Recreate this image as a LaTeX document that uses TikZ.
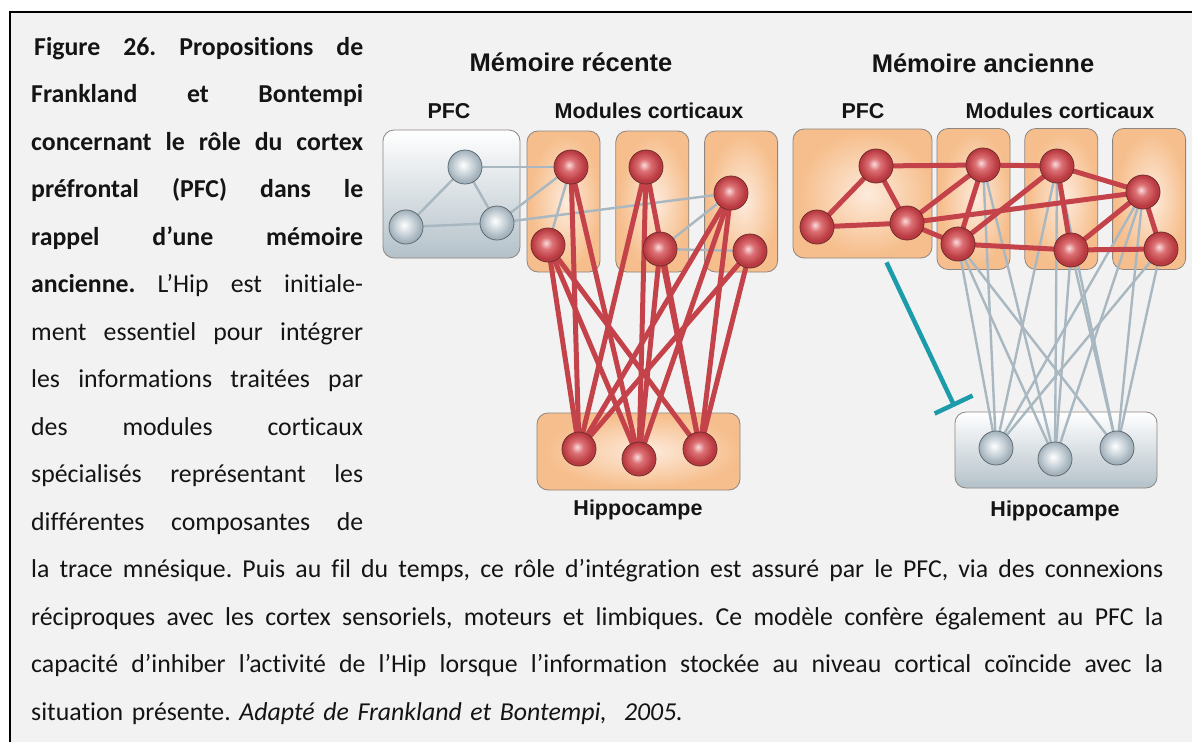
\documentclass[tikz,border=0pt]{standalone}
\usepackage{fontspec}
\setmainfont{Carlito}[Ligatures=NoCommon]
\newfontfamily\figfont{Liberation Sans}
\usetikzlibrary{positioning,arrows.meta}

\definecolor{paper}{HTML}{F2F2F2}
\definecolor{ink}{HTML}{141414}
\definecolor{linkred}{HTML}{C4434A}
\definecolor{linkgrey}{HTML}{A8B7C0}
\definecolor{inhib}{HTML}{1C9CAB}
\definecolor{redhi}{HTML}{F9DCDC}
\definecolor{redmid}{HTML}{DC7074}
\definecolor{redlo}{HTML}{B93A40}
\definecolor{redrim}{HTML}{6E2C2C}
\definecolor{greyhi}{HTML}{FFFFFF}
\definecolor{greymid}{HTML}{D6DEE3}
\definecolor{greylo}{HTML}{A4B2BC}
\definecolor{greyrim}{HTML}{5E6A72}
\definecolor{orangehi}{HTML}{FDEBDC}
\definecolor{orangelo}{HTML}{F6BE8C}
\definecolor{greybot}{HTML}{B4C1C9}
\definecolor{boxline}{HTML}{8C8580}

\pgfdeclareradialshading{redballsh}{\pgfpoint{-3bp}{3bp}}{color(0bp)=(redhi); color(9bp)=(redmid); color(22bp)=(redlo); color(50bp)=(redlo)}
\pgfdeclareradialshading{greyballsh}{\pgfpoint{-3bp}{3bp}}{color(0bp)=(greyhi); color(10bp)=(greymid); color(23bp)=(greylo); color(50bp)=(greylo)}
\pgfdeclareradialshading{modulesh}{\pgfpoint{2bp}{0bp}}{color(0bp)=(orangehi); color(24bp)=(orangelo); color(50bp)=(orangelo)}

\pgfdeclarelayer{backdrop}
\pgfdeclarelayer{boxes}
\pgfdeclarelayer{wires}
\pgfsetlayers{backdrop,boxes,wires,main}

% une ligne justifiee de largeur donnee
\newcommand{\jline}[2][332pt]{\noindent\hbox to #1{\spaceskip=0.226em plus 1fil\relax #2}\par}

\tikzset{
  redball/.style={circle, minimum size=34pt, inner sep=0pt, draw=redrim, line width=0.8pt, shading=redballsh},
  greyball/.style={circle, minimum size=34pt, inner sep=0pt, draw=greyrim, line width=0.8pt, shading=greyballsh},
  module/.style={rectangle, rounded corners=11pt, draw=boxline, line width=0.8pt, shading=modulesh, minimum width=73pt, minimum height=141pt},
  greybox/.style={rectangle, rounded corners=11pt, draw=boxline, line width=0.8pt, top color=white, bottom color=greybot},
  strong/.style={line width=5pt, draw=linkred},
  weak/.style={line width=2.4pt, draw=linkgrey},
  inhibit/.style={line width=4.5pt, draw=inhib, -{Bar[width=42pt]}},
  headline/.style={font=\figfont\bfseries\fontsize{25.5}{30}\selectfont, text=ink},
  tag/.style={font=\figfont\bfseries\fontsize{21.5}{26}\selectfont, text=ink},
  caption/.style={anchor=base west, inner sep=0pt, text=ink, font=\fontsize{25.8}{47.5}\selectfont\frenchspacing}
}

\begin{document}
\begin{tikzpicture}[x=1pt, y=-1pt]
\useasboundingbox (0,0) rectangle (1192,742);
\begin{pgfonlayer}{backdrop}
\fill[paper] (10,12) rectangle (1192,742);
\draw[line width=1.6pt] (10,742) -- (10,12) -- (1192,12);
\end{pgfonlayer}

% legende
\node[caption, text width=332pt] (capL) at (31,55) {%
\jline{\hspace*{3pt}\textbf{Figure 26. Propositions de}}%
\jline{\textbf{Frankland et Bontempi}}%
\jline{\textbf{concernant le rôle du cortex}}%
\jline{\textbf{préfrontal (PFC) dans le}}%
\jline{\textbf{rappel d’une mémoire}}%
\jline{\textbf{ancienne.} L’Hip est initiale-}%
\jline{ment essentiel pour intégrer}%
\jline{les informations traitées par}%
\jline{des modules corticaux}%
\jline{spécialisés représentant les}%
\jline{différentes composantes de}};
\node[caption, text width=1132pt] (capB) at (31,577.5) {%
\jline[1132pt]{la trace mnésique. Puis au fil du temps, ce rôle d’intégration est assuré par le PFC, via des connexions}%
\jline[1132pt]{réciproques avec les cortex sensoriels, moteurs et limbiques. Ce modèle confère également au PFC la}%
\jline[1132pt]{capacité d’inhiber l’activité de l’Hip lorsque l’information stockée au niveau cortical coïncide avec la}%
\noindent situation présente. \textit{Adapté de Frankland et Bontempi,\ \ 2005.}};

% memoire recente
\node[headline] (titleA) at (571,62) {Mémoire récente};
\node[tag] (pfcAlab) at (449,111) {PFC};
\node[tag] (modAlab) at (649,111) {Modules corticaux};
\node[tag] (hipAlab) at (638,510) {Hippocampe};

\begin{pgfonlayer}{boxes}
\node[greybox, minimum width=137pt, minimum height=128pt] (pfcA) at (451.5,194) {};
\node[module] (modA1) at (563.5,201.5) {};
\node[module, right=15pt of modA1] (modA2) {};
\node[module, right=15pt of modA2] (modA3) {};
\node[module, minimum width=203pt, minimum height=77pt] (hipA) at (638.5,451.5) {};
\end{pgfonlayer}

\node[greyball] (n1) at (465,167) {};
\node[greyball] (n2) at (406,227) {};
\node[greyball] (n3) at (497,223) {};
\node[redball] (m1a) at (571,167) {};
\node[redball] (m1b) at (548,245) {};
\node[redball] (m2a) at (646,167) {};
\node[redball] (m2b) at (660,249) {};
\node[redball] (m3a) at (731,193) {};
\node[redball] (m3b) at (750,251) {};
\node[redball] (h1) at (579,449) {};
\node[redball] (h2) at (639,459) {};
\node[redball] (h3) at (700,449) {};

% memoire ancienne
\node[headline] (titleB) at (983,63) {Mémoire ancienne};
\node[tag] (pfcBlab) at (863,111) {PFC};
\node[tag] (modBlab) at (1060,111) {Modules corticaux};
\node[tag] (hipBlab) at (1055,511) {Hippocampe};

\begin{pgfonlayer}{boxes}
\node[module, minimum width=139pt, minimum height=129pt] (pfcB) at (862.5,193.5) {};
\node[module] (modB1) at (973.5,199) {};
\node[module, right=14pt of modB1] (modB2) {};
\node[module, right=14pt of modB2] (modB3) {};
\node[greybox, minimum width=202pt, minimum height=76pt] (hipB) at (1056,450) {};
\end{pgfonlayer}

\node[redball] (p1) at (876,166) {};
\node[redball] (p2) at (817,227) {};
\node[redball] (p3) at (907,223) {};
\node[redball] (r1a) at (983,165) {};
\node[redball] (r1b) at (958,244) {};
\node[redball] (r2a) at (1057,166) {};
\node[redball] (r2b) at (1071,250) {};
\node[redball] (r3a) at (1143,192) {};
\node[redball] (r3b) at (1161,249) {};
\node[greyball] (g1) at (996,448) {};
\node[greyball] (g2) at (1055,459) {};
\node[greyball] (g3) at (1117,448) {};

% liaisons
\begin{pgfonlayer}{wires}
\foreach \a/\b in {n1/n2, n1/n3, n2/n3, n1/m1a, n3/m1a, n3/m3a, m1a/m1b, m2b/m3a, m2b/m3b}
  \draw[weak] (\a.center) -- (\b.center);
\foreach \a/\b in {m1a/h1, m1a/h2, m1b/h1, m1b/h2, m1b/h3, m2a/h1, m2a/h2, m2a/h3,
                   m2b/h2, m2b/h3, m3a/h1, m3a/h2, m3a/h3, m3b/h1, m3b/h3}
  \draw[strong] (\a.center) -- (\b.center);
\foreach \a/\b in {r1a/g1, r1a/g2, r1b/g1, r1b/g2, r1b/g3, r2a/g1, r2a/g2, r2a/g3,
                   r2b/g2, r2b/g3, r3a/g1, r3a/g2, r3a/g3, r3b/g1, r3b/g3}
  \draw[weak] (\a.center) -- (\b.center);
\foreach \a/\b in {p1/p2, p1/p3, p2/p3, p1/r1a, p3/r1a, p3/r1b, p3/r3a, r1a/r2a, r1a/r1b,
                   r1b/r2a, r1b/r2b, r2a/r3a, r2a/r2b, r2b/r3a, r2b/r3b, r3a/r3b}
  \draw[strong] (\a.center) -- (\b.center);
\end{pgfonlayer}

\coordinate (inhA) at ([xshift=24pt, yshift=-4pt]pfcB.south);
\coordinate (inhB) at ([yshift=5pt]hipB.north west);
\draw[inhibit] (inhA) -- (inhB);
\end{tikzpicture}
\end{document}
